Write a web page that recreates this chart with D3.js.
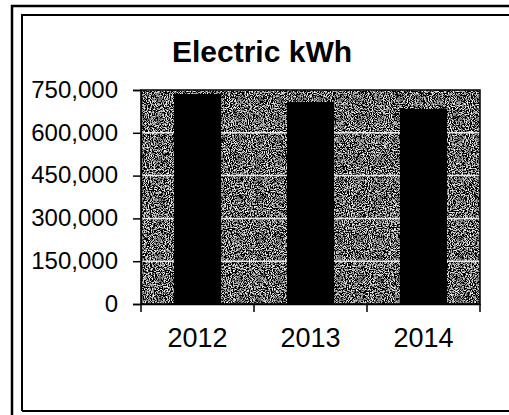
<!DOCTYPE html>
<html><head><meta charset="utf-8">
<script src="https://cdn.jsdelivr.net/npm/d3@7"></script>
<style>html,body{margin:0;padding:0;background:#fff;overflow:hidden}</style>
</head><body>
<svg id="c" width="509" height="415"></svg>
<script>
const title = "Electric kWh";
const years = ["2012", "2013", "2014"];
const kwh = [736000, 708000, 684000];
const yTicks = [0, 150000, 300000, 450000, 600000, 750000];

const svg = d3.select("#c");
const L = 141, R = 480, T = 90, B = 304;

const defs = svg.append("defs");
const f = defs.append("filter").attr("id","noise").attr("x",0).attr("y",0).attr("width","100%").attr("height","100%");
f.append("feTurbulence").attr("type","fractalNoise").attr("baseFrequency",0.95).attr("numOctaves",2).attr("seed",4).attr("result","t");
f.append("feColorMatrix").attr("in","t").attr("type","matrix")
 .attr("values","3.6 0 0 0 -1.65  3.6 0 0 0 -1.65  3.6 0 0 0 -1.65  0 0 0 0 1");

// frame
svg.append("path").attr("d","M12,415 V6 H509").attr("fill","none").attr("stroke","#000").attr("stroke-width",2.5);
svg.append("path").attr("d","M22,411 V15 H509 M22,411 H509").attr("fill","none").attr("stroke","#000").attr("stroke-width",2);

const x = d3.scaleBand().domain(years).range([L, R]).paddingInner(1.4/2.4).paddingOuter(0.7/2.4);
const xc = d3.scaleBand().domain(years).range([L, R]);
const y = d3.scaleLinear().domain([0, 750000]).range([B, T]);

// plot area
svg.append("rect").attr("x",L).attr("y",T).attr("width",R-L).attr("height",B-T).attr("fill","#333");
svg.append("rect").attr("x",L).attr("y",T).attr("width",R-L).attr("height",B-T).attr("filter","url(#noise)");

// gridlines
svg.append("g").selectAll("line").data(yTicks.filter(d=>d>0 && d<750000)).join("line")
 .attr("x1",L).attr("x2",R).attr("y1",d=>y(d)).attr("y2",d=>y(d))
 .attr("stroke","#e8e8e8").attr("stroke-width",1.5);

// bars
svg.append("g").selectAll("rect").data(kwh).join("rect")
 .attr("x",(d,i)=>x(years[i])).attr("width",x.bandwidth())
 .attr("y",d=>y(d)).attr("height",d=>B-y(d)).attr("fill","#000");

svg.append("rect").attr("x",L).attr("y",T).attr("width",R-L).attr("height",B-T).attr("fill","none").attr("stroke","#000").attr("stroke-width",1.5);

// y axis
const ya = svg.append("g").attr("transform",`translate(${L},0)`)
 .call(d3.axisLeft(y).tickValues(yTicks).tickSize(8).tickPadding(15).tickFormat(d3.format(",")));
ya.select(".domain").attr("stroke","#000").attr("stroke-width",1.5);
ya.selectAll("line").attr("stroke","#000").attr("stroke-width",1.5);
ya.selectAll("text").attr("font-family","Liberation Sans, Arial, sans-serif").attr("font-size",24).attr("fill","#000").attr("dy","0.3em");

// x axis
const xa = svg.append("g").attr("transform",`translate(0,${B})`)
 .call(d3.axisBottom(xc).tickSize(0).tickPadding(0));
xa.select(".domain").attr("stroke","#000").attr("stroke-width",1.5);
xa.selectAll("text").attr("font-family","Liberation Sans, Arial, sans-serif").attr("font-size",27).attr("fill","#000").attr("dy",0).attr("y",43);
svg.append("g").selectAll("line").data([L, ...years.map(c=>xc(c)+xc.bandwidth())]).join("line")
 .attr("x1",d=>d).attr("x2",d=>d).attr("y1",B).attr("y2",B+8).attr("stroke","#000").attr("stroke-width",1.5);

// title
svg.append("text").attr("x",262).attr("y",62).attr("text-anchor","middle")
 .attr("font-family","Liberation Sans, Arial, sans-serif").attr("font-weight","bold").attr("font-size",30)
 .attr("fill","#000").text(title);
</script>
</body></html>
